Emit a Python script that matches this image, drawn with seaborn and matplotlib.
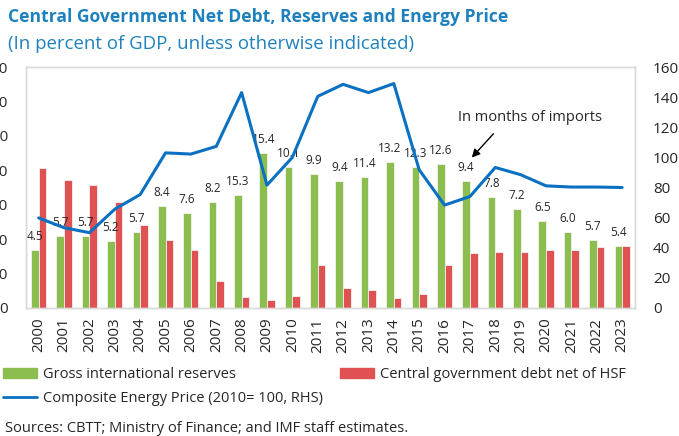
import numpy as np
import pandas as pd
import matplotlib
matplotlib.use('Agg')
import matplotlib.pyplot as plt
import seaborn as sns
from matplotlib.patches import Patch
from matplotlib.lines import Line2D

years = [str(y) for y in range(2000, 2024)]
reserves = [16.8, 21.0, 21.0, 19.4, 22.2, 29.6, 27.5, 30.7, 32.9, 45.0, 41.1, 38.8,
            36.9, 38.0, 42.3, 41.0, 41.9, 36.9, 32.3, 28.8, 25.3, 22.1, 19.8, 18.0]
debt = [40.7, 37.2, 35.7, 30.7, 24.1, 19.8, 16.8, 7.9, 3.2, 2.4, 3.6, 12.4,
        5.8, 5.2, 2.8, 4.1, 12.5, 15.9, 16.4, 16.4, 16.8, 16.8, 17.6, 18.0]
energy = [59.8, 53.3, 50.0, 65.6, 75.3, 103.0, 102.2, 107.3, 143.0, 81.6, 100.0, 140.5,
          148.5, 143.0, 149.0, 91.8, 68.3, 74.0, 93.3, 88.5, 81.1, 80.3, 80.3, 80.0]
months = [4.5, 5.7, 5.7, 5.2, 5.7, 8.4, 7.6, 8.2, 15.3, 15.4, 10.1, 9.9,
          9.4, 11.4, 13.2, 12.3, 12.6, 9.4, 7.8, 7.2, 6.5, 6.0, 5.7, 5.4]

green = '#8CBD4F'
red = '#E05252'
blue = '#0A70C2'
title_col = '#1E81BD'
spine_col = '#D9D9D9'

sns.set_theme(style='white')
plt.rcParams['font.family'] = ['Open Sans', 'DejaVu Sans']

df = pd.DataFrame({
    'year': years + years,
    'value': reserves + debt,
    'series': ['Gross international reserves'] * 24 + ['Central government debt net of HSF'] * 24,
})

fig = plt.figure(figsize=(6.79, 4.36), dpi=100)
ax = fig.add_axes([0.0383, 0.2936, 0.8966, 0.5527])
sns.barplot(data=df, x='year', y='value', hue='series', palette=[green, red],
            width=0.6, saturation=1, edgecolor='#F2F2F2', linewidth=0.6,
            legend=False, ax=ax)
ax.set_ylim(0, 70)
ax.set_yticks(range(0, 80, 10))
ax.set_xlabel('')
ax.set_ylabel('')
ax.tick_params(axis='y', length=0, pad=13, labelsize=11)
ax.tick_params(axis='x', length=0, pad=7, labelsize=11, rotation=90)

# months of imports above the green bars
for i, m in enumerate(months):
    ax.annotate(f'{m:.1f}', (i - 0.15, reserves[i]), xytext=(0, 5),
                textcoords='offset points', ha='center', va='bottom', fontsize=8.5)

ax2 = ax.twinx()
sns.lineplot(x=np.arange(len(years)), y=energy, color=blue, lw=2.2, ax=ax2)
ax2.set_ylim(0, 160)
ax2.set_yticks(range(0, 180, 20))
ax2.set_ylabel('')
ax2.tick_params(axis='y', length=0, pad=13, labelsize=11)
ax.set_xlim(-0.5, 23.5)

for a in (ax, ax2):
    for s in a.spines.values():
        s.set_color(spine_col)
        s.set_linewidth(1)

ax.annotate('', xy=(17.0, 43.1), xytext=(18.0, 51.2),
            arrowprops=dict(arrowstyle='-|>', color='black', lw=1, mutation_scale=12))
ax.text(19.36, 55.3, 'In months of imports', ha='center', va='center', fontsize=10.5)

fig.text(0.012, 0.961, 'Central Government Net Debt, Reserves and Energy Price',
         fontsize=12.6, weight='bold', color=title_col, va='center')
fig.text(0.012, 0.899, '(In percent of GDP, unless otherwise indicated)',
         fontsize=13.4, color=title_col, va='center')

handles = [Patch(color=green), Line2D([0], [0], color=blue, lw=2),
           Patch(color=red)]
labels = ['Gross international reserves', 'Composite Energy Price (2010= 100, RHS)',
          'Central government debt net of HSF']
fig.legend(handles, labels, loc='upper left', bbox_to_anchor=(0.005, 1 - 367 / 436),
           ncol=2, frameon=False, fontsize=10.5,
           handlelength=2.3, handleheight=0.7, handletextpad=0.4,
           columnspacing=1.2, labelspacing=0.6, borderaxespad=0, borderpad=0)

fig.text(0.007, 1 - 428 / 436, 'Sources: CBTT; Ministry of Finance; and IMF staff estimates.',
         fontsize=10.5, va='center')

fig.savefig('out.png', dpi=100)
